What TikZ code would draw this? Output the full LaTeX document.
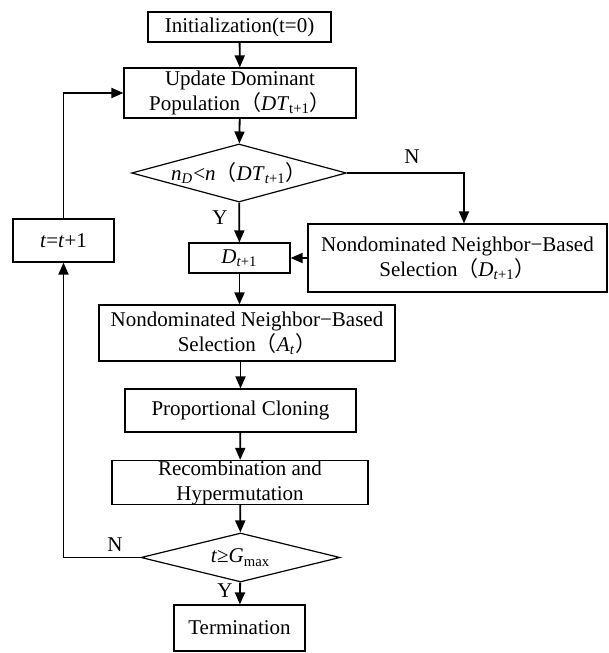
\documentclass[tikz,border=0pt]{standalone}
\usepackage{fontspec}
\setmainfont{Liberation Serif}
\newfontfamily\cjk{Noto Sans CJK SC}
\usetikzlibrary{arrows.meta,shapes.geometric}
\newcommand{\fs}{\fontsize{10.5}{12.5}\selectfont}
\newcommand{\fwp}[1]{{\cjk （}#1{\cjk ）}}

\begin{document}
\begin{tikzpicture}[x=0.5pt,y=-0.5pt,
  box/.style={draw,line width=0.6pt,inner xsep=1pt,inner ysep=0pt,align=center,font=\fs},
  decide/.style={draw,diamond,line width=0.6pt,inner sep=0pt,align=center,font=\fs},
  flow/.style={-{Triangle[width=5pt,length=6pt]},line width=0.9pt},
  tag/.style={font=\fs}]
  \useasboundingbox (0,0) rectangle (609,653);
  % main column
  \node[box,minimum width=91.5pt,minimum height=15pt] (init) at (239.5,27) {Initialization(t=0)};
  \node[box,minimum width=116pt,minimum height=25pt] (upd) at (240,93)
    {Update Dominant\\Population\fwp{\textit{DT}\textsubscript{t+1}}};
  \node[decide,aspect=3.7,minimum width=100pt,minimum height=27pt] (dia1) at (239,173)
    {\textit{n}\textsubscript{\textit{D}}<\textit{n}\fwp{\textit{DT}\textsubscript{\textit{t}+1}}};
  \node[box,minimum width=50.5pt,minimum height=15pt] (dsel) at (239.5,258)
    {\textit{D}\textsubscript{\textit{t}+1}};
  \node[box,minimum width=149.5pt,minimum height=34pt] (nnd) at (457.5,258)
    {Nondominated Neighbor−Based\\Selection\fwp{\textit{D}\textsubscript{\textit{t}+1}}};
  \node[box,minimum width=50.5pt,minimum height=21.5pt] (tinc) at (63.5,240.5)
    {\textit{t}=\textit{t}+1};
  \node[box,minimum width=148pt,minimum height=28pt] (nna) at (247,333)
    {Nondominated Neighbor−Based\\Selection\fwp{\textit{A}\textsubscript{\textit{t}}}};
  \node[box,minimum width=115.5pt,minimum height=21.5pt] (clone) at (240.5,410.5)
    {Proportional Cloning};
  \node[box,minimum width=128pt,minimum height=21.5pt] (recomb) at (240,482.5)
    {Recombination and\\Hypermutation};
  \node[decide,aspect=4,minimum width=99.5pt,minimum height=24.5pt] (dia2) at (240.5,557.5)
    {\textit{t}≥\textit{G}\textsubscript{max}};
  \node[box,minimum width=65.5pt,minimum height=23pt] (term) at (239.5,628) {Termination};
  % labels
  \node[tag] (n1) at (412,157) {N};
  \node[tag] (y1) at (220,218) {Y};
  \node[tag] (n2) at (115,545) {N};
  \node[tag] (y2) at (225,591) {Y};
  % connectors
  \draw[flow] (init) -- (upd);
  \draw[flow] (upd) -- (dia1);
  \draw[flow] (dia1) -- (dsel);
  \draw[flow] (dia1.east) -| ([xshift=3.25pt]nnd.north);
  \draw[flow] (nnd.west) -- (dsel.east);
  \draw[flow] (dsel.south) -- (dsel.south |- nna.north);
  \draw[flow] (clone.north |- nna.south) -- (clone.north);
  \draw[flow] (clone) -- (recomb);
  \draw[flow] (recomb) -- (dia2);
  \draw[flow] (dia2) -- (term);
  \draw[flow] (dia2.west) -| (tinc.south);
  \draw[flow] (tinc.north) |- (upd.west);
\end{tikzpicture}
\end{document}
